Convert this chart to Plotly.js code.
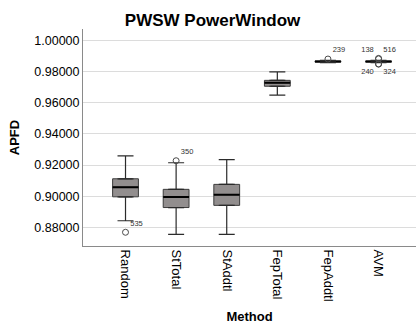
<!DOCTYPE html>
<html>
<head>
<meta charset="utf-8">
<script src="https://cdn.plot.ly/plotly-3.0.1.min.js"></script>
<style>
  html, body { margin: 0; padding: 0; background: #ffffff; overflow: hidden; }
  #chart { width: 416px; height: 329px; }
</style>
</head>
<body>
<div id="chart"></div>
<script>
// APFD distribution per prioritisation method (PWSW PowerWindow)
const methods       = ['Random', 'StTotal', 'StAddtl', 'FepTotal', 'FepAddtl', 'AVM'];
const lowerWhisker  = [0.8842, 0.8755, 0.8755, 0.9650, 0.9858, 0.9858];
const quartile1     = [0.8996, 0.8927, 0.8941, 0.9707, 0.9862, 0.9862];
const medians       = [0.9058, 0.8995, 0.9010, 0.9729, 0.9866, 0.9866];
const quartile3     = [0.9112, 0.9044, 0.9076, 0.9745, 0.9870, 0.9870];
const upperWhisker  = [0.9259, 0.9215, 0.9235, 0.9800, 0.9873, 0.9873];

// Outlying runs, labelled with their case number
const outlierMethod = ['Random', 'StTotal', 'FepAddtl', 'AVM', 'AVM', 'AVM', 'AVM'];
const outlierValue  = [0.8768, 0.9228, 0.9882, 0.9883, 0.9886, 0.9850, 0.9850];
const outlierCase   = ['535', '350', '239', '138', '516', '240', '324'];
const outlierPos    = ['top right', 'top right', 'top right', 'top left', 'top right', 'bottom left', 'bottom right'];

const FONT = 'Arial, "Liberation Sans", sans-serif';
const BOX_W = 0.51;

// Whiskers with end caps: drawn as error bars hanging off the box edges
const upperWhiskers = {
  type: 'scatter', mode: 'markers', x: methods, y: upperWhisker,
  marker: { size: 0.1, opacity: 0 }, hoverinfo: 'skip', showlegend: false,
  error_y: { type: 'data', symmetric: false,
             array: methods.map(() => 0),
             arrayminus: upperWhisker.map((v, i) => v - quartile3[i]),
             width: 8, thickness: 1.2, color: '#2b2b2b' }
};
const lowerWhiskers = {
  type: 'scatter', mode: 'markers', x: methods, y: lowerWhisker,
  marker: { size: 0.1, opacity: 0 }, hoverinfo: 'skip', showlegend: false,
  error_y: { type: 'data', symmetric: false,
             array: lowerWhisker.map((v, i) => quartile1[i] - v),
             arrayminus: methods.map(() => 0),
             width: 8, thickness: 1.2, color: '#2b2b2b' }
};

// Interquartile boxes
const boxes = {
  type: 'box', x: methods,
  q1: quartile1, median: medians, q3: quartile3,
  lowerfence: quartile1, upperfence: quartile3,
  width: BOX_W, fillcolor: 'rgb(146,142,142)',
  line: { color: '#3c3c3c', width: 1 },
  boxpoints: false, hoverinfo: 'skip', showlegend: false
};

// Heavier median bar
const medianBars = {
  type: 'box', x: methods,
  q1: medians, median: medians, q3: medians,
  lowerfence: medians, upperfence: medians,
  width: BOX_W, fillcolor: 'rgba(0,0,0,0)',
  line: { color: '#000000', width: 2 },
  boxpoints: false, hoverinfo: 'skip', showlegend: false
};

const outliers = {
  type: 'scatter', mode: 'markers+text',
  x: outlierMethod, y: outlierValue, text: outlierCase,
  textposition: outlierPos,
  textfont: { family: FONT, size: 7.5, color: '#333333' },
  marker: { symbol: 'circle-open', size: 6, color: '#4a4a4a', line: { width: 1 } },
  hoverinfo: 'skip', showlegend: false
};

const layout = {
  width: 416, height: 329,
  margin: { l: 83, r: 0, t: 29, b: 83, pad: 0 },
  paper_bgcolor: '#ffffff', plot_bgcolor: '#ffffff',
  font: { family: FONT, color: '#000000' },
  showlegend: false,
  title: {
    text: '<b>PWSW PowerWindow</b>',
    font: { family: FONT, size: 17, color: '#000000' },
    x: 0.511, xanchor: 'center', xref: 'container',
    y: 0.94, yanchor: 'middle', yref: 'container'
  },
  xaxis: {
    type: 'category', categoryorder: 'array', categoryarray: methods,
    range: [-0.84, 5.74],
    tickangle: 90, ticks: '', tickfont: { family: FONT, size: 13, color: '#000000' },
    showgrid: false, zeroline: false,
    showline: true, linecolor: '#8a8a8a', linewidth: 1,
    title: { text: '<b>Method</b>', font: { family: FONT, size: 13, color: '#000000' }, standoff: 11 }
  },
  yaxis: {
    range: [0.86797, 1.00752],
    tickvals: [0.88, 0.90, 0.92, 0.94, 0.96, 0.98, 1.00],
    ticktext: ['0.88000', '0.90000', '0.92000', '0.94000', '0.96000', '0.98000', '1.00000'],
    ticks: '', tickfont: { family: FONT, size: 12.5, color: '#000000' },
    showgrid: true, gridcolor: '#dcdcdc', gridwidth: 1, zeroline: false,
    showline: true, linecolor: '#8a8a8a', linewidth: 1,
    title: { text: '<b>APFD</b>', font: { family: FONT, size: 13, color: '#000000' }, standoff: 11 }
  }
};

Plotly.newPlot('chart', [boxes, upperWhiskers, lowerWhiskers, medianBars, outliers], layout,
               { displayModeBar: false, staticPlot: true });
</script>
</body>
</html>
